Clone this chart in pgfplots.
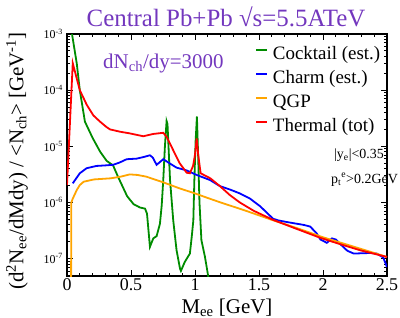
\documentclass[border=0pt]{standalone}
\usepackage{pgfplots}
\pgfplotsset{compat=1.18}
\usepackage{fontspec}
\setmainfont{Liberation Serif}
\definecolor{cgreen}{RGB}{0,140,0}
\definecolor{cblue}{RGB}{0,0,255}
\definecolor{corange}{RGB}{255,165,0}
\definecolor{cred}{RGB}{255,0,0}
\definecolor{cpurple}{RGB}{115,55,190}
\begin{document}
\begin{tikzpicture}[x=1bp,y=1bp]
\path[use as bounding box] (-67,-42) rectangle (333,276);
\begin{axis}[
  at={(0,0)}, anchor=south west,
  scale only axis, width=320bp, height=242bp,
  xmin=0, xmax=2.5, ymode=log, log basis y=10, ymin=4.9e-8, ymax=1e-3,
  xtick={0,0.5,1,1.5,2,2.5},
  xticklabels={0,0.5,1,1.5,2,2.5},
  minor x tick num=4,
  ytick={1e-7,1e-6,1e-5,1e-4,1e-3},
  minor ytick={6e-8,7e-8,8e-8,9e-8,2e-7,3e-7,4e-7,5e-7,6e-7,7e-7,8e-7,9e-7,2e-6,3e-6,4e-6,5e-6,6e-6,7e-6,8e-6,9e-6,2e-5,3e-5,4e-5,5e-5,6e-5,7e-5,8e-5,9e-5,2e-4,3e-4,4e-4,5e-4,6e-4,7e-4,8e-4,9e-4},
  yticklabels={10\textsuperscript{-7},10\textsuperscript{-6},10\textsuperscript{-5},10\textsuperscript{-4},10\textsuperscript{-3}},
  tick align=inside,
  major tick length=6bp, minor tick length=3bp,
  every tick/.style={black, line width=0.9bp},
  axis line style={line width=1.2bp},
  xticklabel style={font=\fontsize{18}{18}\selectfont, inner sep=2bp},
  yticklabel style={font=\fontsize{12}{12}\selectfont, inner sep=0pt, xshift=-4bp},
  legend style={draw=none, fill=none, at={(0.5875,0.95)}, anchor=north west,
    font=\fontsize{19}{19}\selectfont, row sep=7bp, column sep=5bp, inner sep=0pt,
    nodes={inner sep=0pt, text height=13bp, text depth=4bp}},
  legend cell align=left,
  legend image code/.code={\draw[#1] (0bp,5bp) -- (11bp,5bp);},
  every axis plot/.append style={line width=1.8bp},
]
\addplot[cgreen] coordinates {
(0.032,1.26e-3) (0.076,3.02e-4) (0.100,1.00e-4) (0.140,2.75e-5) (0.200,1.41e-5)
(0.260,7.94e-6) (0.310,5.50e-6) (0.360,4.57e-6) (0.400,2.82e-6) (0.470,1.29e-6)
(0.520,9.33e-7) (0.570,8.13e-7) (0.610,7.76e-7) (0.625,6.31e-7) (0.648,1.62e-7)
(0.674,2.29e-7) (0.700,2.51e-7) (0.726,4.17e-7) (0.740,8.91e-7) (0.752,2.51e-6)
(0.765,1.00e-5) (0.778,2.82e-5) (0.785,2.51e-5) (0.795,7.94e-6) (0.805,2.51e-6)
(0.830,4.79e-7) (0.856,1.41e-7) (0.883,6.61e-8) (0.890,6.03e-8) (0.920,8.71e-8)
(0.960,1.23e-7) (0.975,2.51e-7) (0.987,4.79e-7) (0.995,2.51e-6) (1.005,1.26e-5)
(1.015,3.39e-5) (1.025,6.31e-6) (1.035,1.00e-6) (1.050,2.14e-7) (1.078,1.07e-7)
(1.100,5.37e-8) (1.120,2.51e-8)};
\addlegendentry{Cocktail (est.)}
\addplot[cblue] coordinates {
(0.045,2.19e-6) (0.10,3.31e-6) (0.153,4.07e-6) (0.23,4.47e-6) (0.30,4.57e-6)
(0.36,4.68e-6) (0.41,5.13e-6) (0.466,5.89e-6) (0.544,6.03e-6) (0.60,6.46e-6)
(0.648,6.92e-6) (0.67,6.31e-6) (0.70,4.68e-6) (0.752,5.89e-6) (0.80,5.01e-6)
(0.856,4.17e-6) (0.935,3.72e-6) (1.013,3.09e-6) (1.117,2.51e-6) (1.195,1.95e-6)
(1.273,1.70e-6) (1.35,1.45e-6) (1.43,1.17e-6) (1.51,8.51e-7) (1.61,5.13e-7)
(1.65,4.79e-7) (1.72,4.47e-7) (1.85,3.98e-7) (1.90,3.72e-7) (1.95,2.82e-7)
(1.98,2.19e-7) (2.03,1.91e-7) (2.07,2.29e-7) (2.10,2.19e-7) (2.13,1.86e-7)
(2.19,1.38e-7) (2.24,1.23e-7) (2.37,1.26e-7) (2.42,1.23e-7) (2.47,1.05e-7)
(2.50,7.08e-8)};
\addlegendentry{Charm (est.)}
\addplot[corange] coordinates {
(0.031,1e-8) (0.034,1.00e-6) (0.045,1.17e-6) (0.076,1.66e-6) (0.10,2.04e-6)
(0.13,2.34e-6) (0.21,2.57e-6) (0.34,2.69e-6) (0.42,2.88e-6) (0.49,3.16e-6)
(0.55,3.09e-6) (0.62,2.88e-6) (0.75,2.29e-6) (0.88,1.78e-6) (1.00,1.45e-6)
(1.10,1.20e-6) (1.20,1.00e-6) (1.40,7.08e-7) (1.60,4.90e-7) (1.80,3.47e-7)
(2.00,2.40e-7) (2.20,1.74e-7) (2.40,1.26e-7) (2.50,1.07e-7)};
\addlegendentry{QGP}
\addplot[cred] coordinates {
(0,2.04e-6) (0.045,3.02e-4) (0.10,1.00e-4) (0.154,5.50e-5) (0.206,3.55e-5)
(0.258,2.75e-5) (0.31,2.19e-5) (0.336,2.00e-5) (0.414,1.82e-5) (0.49,1.70e-5)
(0.596,1.51e-5) (0.674,1.66e-5) (0.752,1.74e-5) (0.778,1.48e-5) (0.83,8.51e-6)
(0.88,5.01e-6) (0.935,3.39e-6) (0.96,3.31e-6) (0.985,4.47e-6) (1.000,7.08e-6)
(1.013,1.38e-5) (1.025,7.08e-6) (1.044,3.31e-6) (1.12,2.69e-6) (1.195,1.95e-6)
(1.273,1.35e-6) (1.35,1.00e-6) (1.46,7.08e-7) (1.61,4.90e-7) (1.77,3.55e-7)
(1.98,2.34e-7) (2.13,1.82e-7) (2.29,1.41e-7) (2.50,1.07e-7)};
\addlegendentry{Thermal (tot)}
\end{axis}
\node[font=\fontsize{25}{25}\selectfont, text=cpurple, anchor=base] at (159,250) {Central Pb+Pb √s=5.5ATeV};
\node[font=\fontsize{21}{21}\selectfont, text=cpurple, anchor=base west, inner sep=0pt] at (36,208) {dN\textsubscript{ch}/dy=3000};
\node[font=\fontsize{14}{14}\selectfont, anchor=base west, inner sep=0pt] at (267,118) {|y\textsubscript{e}|<0.35};
\node[font=\fontsize{14}{14}\selectfont, anchor=base west, inner sep=0pt] at (264,93) {p\textsubscript{t}\textsuperscript{e}>0.2GeV};
\node[font=\fontsize{21}{21}\selectfont, anchor=base] at (160,-37) {M\textsubscript{ee} [GeV]};
\node[font=\fontsize{21}{21}\selectfont, rotate=90, anchor=center] at (-50,115) {(d\textsuperscript{2}N\textsubscript{ee}/dMdy) / <N\textsubscript{ch}> [GeV\textsuperscript{-1}]};
\end{tikzpicture}
\end{document}
